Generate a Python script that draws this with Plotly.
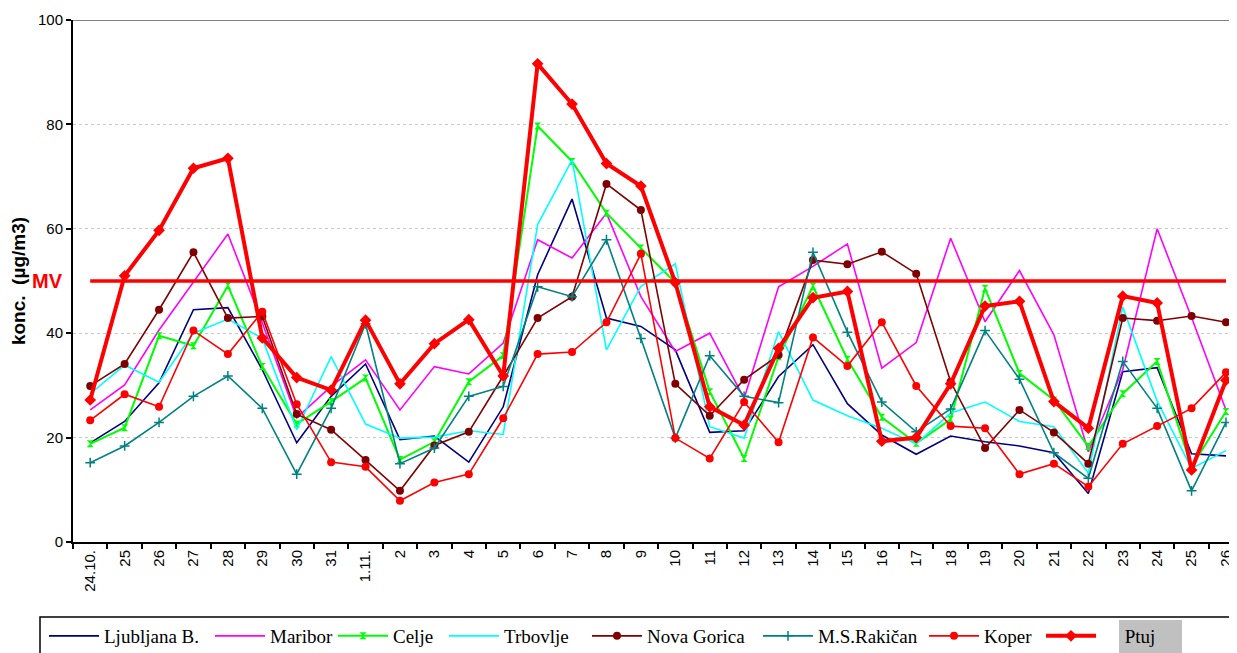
import plotly.graph_objects as go

# daily average concentrations, 24.10. - 26.11.
days = ["24.10.", "25", "26", "27", "28", "29", "30", "31", "1.11.", "2", "3", "4", "5",
        "6", "7", "8", "9", "10", "11", "12", "13", "14", "15", "16", "17", "18", "19",
        "20", "21", "22", "23", "24", "25", "26"]

ljubljana = [19.0, 23.1, 30.5, 44.5, 44.9, 33.0, 19.0, 27.9, 34.1, 19.6, 20.3, 15.3, 25.9,
             51.2, 65.7, 42.9, 41.3, 36.8, 21.0, 21.3, 31.7, 37.8, 26.5, 20.5, 16.8, 20.3, 19.2,
             18.4, 17.1, 9.3, 32.6, 33.4, 16.9, 16.5]
maribor = [25.3, 30.1, 40.6, 49.7, 59.0, 42.0, 23.8, 29.8, 34.9, 25.3, 33.6, 32.2, 38.1,
           57.9, 54.4, 63.0, 47.0, 36.5, 40.0, 27.5, 48.9, 52.8, 57.1, 33.3, 38.2, 58.2, 42.2,
           52.0, 39.7, 17.3, 33.0, 60.0, 43.0, 25.3]
celje = [18.8, 21.9, 39.5, 37.6, 49.1, 33.6, 22.6, 26.9, 31.4, 15.8, 19.2, 30.7, 35.7,
         79.7, 72.9, 63.0, 56.3, 49.7, 28.8, 16.0, 35.5, 49.0, 35.0, 23.9, 18.9, 23.5, 48.6,
         32.3, 27.2, 18.3, 28.4, 34.6, 14.4, 25.0]
trbovlje = [28.4, 33.9, 30.6, 40.0, 42.7, 39.0, 21.5, 35.5, 22.6, 19.9, 20.1, 21.3, 20.6,
            60.8, 73.2, 36.8, 49.0, 53.3, 22.1, 19.9, 40.3, 27.2, 24.2, 21.8, 18.8, 24.7, 26.8,
            23.1, 22.1, 13.2, 45.0, 27.0, 14.1, 17.5]
nova_gorica = [29.9, 34.1, 44.5, 55.5, 42.9, 43.2, 24.5, 21.5, 15.7, 9.8, 18.5, 21.1, 31.8,
               42.9, 47.0, 68.6, 63.6, 30.3, 24.2, 31.1, 35.8, 54.0, 53.2, 55.6, 51.4, 30.7, 18.0,
               25.3, 21.0, 15.0, 42.9, 42.4, 43.3, 42.1]
rakican = [15.2, 18.4, 22.9, 27.9, 31.8, 25.6, 13.0, 25.6, 41.8, 15.0, 18.0, 27.9, 29.8,
           48.9, 47.0, 57.9, 39.0, 19.9, 35.7, 27.9, 26.7, 55.5, 40.2, 26.8, 21.1, 25.5, 40.5,
           31.2, 17.1, 12.2, 34.6, 25.6, 9.8, 22.9]
koper = [23.3, 28.3, 25.9, 40.5, 36.0, 44.1, 26.4, 15.3, 14.4, 7.9, 11.4, 13.0, 23.7,
         36.0, 36.4, 42.1, 55.2, 19.9, 16.0, 26.8, 19.1, 39.2, 33.7, 42.1, 29.9, 22.2, 21.8,
         13.0, 15.0, 10.6, 18.8, 22.2, 25.6, 32.5]
ptuj = [27.2, 51.0, 59.7, 71.6, 73.5, 39.1, 31.5, 29.1, 42.5, 30.3, 38.0, 42.6, 31.8,
        91.6, 83.9, 72.5, 68.2, 49.7, 25.9, 22.4, 37.1, 46.8, 48.0, 19.3, 20.0, 30.3, 45.2,
        46.1, 26.9, 21.8, 47.1, 45.8, 13.8, 31.0]
mv_limit = 50

x = list(range(len(days)))

series = [
    ("Ljubljana B.", ljubljana, dict(color="#000080", width=1.6), None),
    ("Maribor", maribor, dict(color="#FF00FF", width=1.6), None),
    ("Celje", celje, dict(color="#00FF00", width=2),
     dict(symbol="hourglass", size=7, color="#00FF00")),
    ("Trbovlje", trbovlje, dict(color="#00FFFF", width=1.6), None),
    ("Nova Gorica", nova_gorica, dict(color="#800000", width=1.6),
     dict(symbol="circle", size=8, color="#800000")),
    ("M.S.Rakičan", rakican, dict(color="#008080", width=1.6),
     dict(symbol="cross-thin", size=7, line=dict(color="#008080", width=1.5))),
    ("Koper", koper, dict(color="#FF0000", width=1.6),
     dict(symbol="circle", size=8, color="#FF0000")),
]

# page body has an 8px margin, so the figure is drawn 8px right/down in the window
OFF = 8
W, H = 1237 - OFF, 653 - OFF
L, T, B = 73 - OFF, 20 - OFF, 111
PW = W - L
PH = H - T - B


def px(p):
    # window x pixel -> paper x
    return (p - 73) / PW


def py(p):
    # window y pixel -> paper y
    return (542 - p) / PH


# legend entries positioned like the original (window pixel where each line symbol starts)
leg_px = [50, 216, 339, 450, 593, 764, 930, 1047]
LEG_OFF = 6

fig = go.Figure()
for i, (name, vals, line, marker) in enumerate(series):
    mode = "lines+markers" if marker else "lines"
    fig.add_trace(go.Scatter(x=x, y=vals, name=name, mode=mode, line=line,
                             marker=marker, legend="legend" if i == 0 else "legend%d" % (i + 1)))

# limit value line
fig.add_trace(go.Scatter(x=[x[0], x[-1]], y=[mv_limit, mv_limit], mode="lines",
                         line=dict(color="#FF0000", width=3.5), showlegend=False))

fig.add_trace(go.Scatter(x=x, y=ptuj, name="\u00a0\u00a0\u00a0\u00a0\u00a0Ptuj",
                         mode="lines+markers",
                         line=dict(color="#FF0000", width=4),
                         marker=dict(symbol="diamond", size=9, color="#FF0000"),
                         legend="legend8"))

legend_font = dict(family="Liberation Serif", size=19, color="black")
legends = {}
for i, p in enumerate(leg_px):
    key = "legend" if i == 0 else "legend%d" % (i + 1)
    legends[key] = dict(orientation="h", xref="container", yref="container",
                        x=(p - OFF - LEG_OFF) / W, xanchor="left",
                        y=(H - (636 - OFF)) / H, yanchor="middle",
                        bgcolor="rgba(0,0,0,0)", font=legend_font, itemwidth=50)

fig.update_layout(
    width=W, height=H,
    margin=dict(l=L, r=0, t=T, b=B, autoexpand=False),
    plot_bgcolor="white", paper_bgcolor="white",
    font=dict(family="Arial", color="black"),
    **legends,
    xaxis=dict(range=[-0.5, 33.32], tickvals=x, ticktext=days, tickangle=-90,
               ticks="", showgrid=False, zeroline=False, automargin=False,
               showline=True, linecolor="black", linewidth=2,
               tickfont=dict(family="Arial", size=15),
               minor=dict(ticks="outside", tick0=-0.5, dtick=1, ticklen=5,
                          tickcolor="black", tickwidth=1.5, showgrid=False)),
    yaxis=dict(range=[0, 100], dtick=20, ticks="outside", ticklen=5, tickcolor="black",
               tickwidth=1.5, showline=True, linecolor="black", linewidth=2,
               gridcolor="#c8c8c8", griddash="dot", gridwidth=1, zeroline=False,
               automargin=False,
               tickfont=dict(family="Arial", size=15),
               title=dict(text="<b>konc.  (µg/m3)</b>", font=dict(family="Arial", size=19),
                          standoff=12)),
    shapes=[
        dict(type="line", xref="paper", yref="y", x0=0, x1=1, y0=100, y1=100,
             line=dict(color="#808080", width=2)),
        dict(type="rect", xref="paper", yref="paper", x0=px(40), x1=1.02,
             y0=py(617), y1=py(670), line=dict(color="black", width=1.5)),
        dict(type="rect", xref="paper", yref="paper", x0=px(1119), x1=px(1182),
             y0=py(620), y1=py(653), fillcolor="#c0c0c0", line=dict(width=0), layer="above"),
    ],
    annotations=[
        dict(text="<b>MV</b>", xref="paper", yref="y", x=px(65), y=mv_limit,
             xanchor="right", yanchor="middle", showarrow=False,
             font=dict(family="Arial", size=20, color="#FF0000")),
    ],
)

fig.write_html("out.html")
